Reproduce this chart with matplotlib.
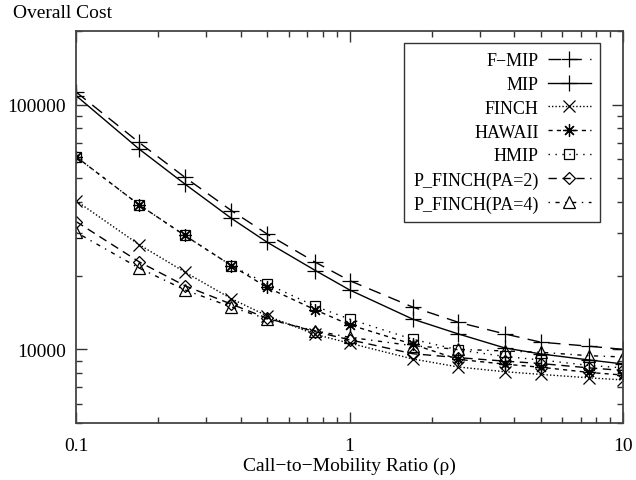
import matplotlib
matplotlib.use("Agg")
import matplotlib.pyplot as plt
from matplotlib.ticker import LogLocator, FixedLocator, NullFormatter, FixedFormatter

rho = [0.1, 0.17, 0.25, 0.37, 0.5, 0.75, 1.0, 1.7, 2.5, 3.7, 5.0, 7.5, 10.0]

f_mip = [112700, 70100, 50500, 36900, 29600, 22700, 19100, 14900, 12900, 11560, 10700, 10300, 10000]
mip = [108900, 65900, 47400, 34300, 27400, 21000, 17500, 13300, 11560, 10130, 9580, 9050, 8715]
finch = [40500, 26800, 20700, 16100, 13700, 11500, 10600, 9140, 8470, 8100, 7900, 7650, 7500]
hawaii = [61300, 39000, 29200, 22000, 17900, 14500, 12600, 10500, 9100, 8700, 8450, 8050, 7850]
hmip = [61300, 39000, 29200, 22000, 18500, 15000, 13300, 11000, 9950, 9350, 9050, 8600, 8400]
p_finch2 = [33300, 22800, 18200, 15300, 13400, 11800, 10950, 9600, 9250, 8950, 8750, 8400, 8200]
p_finch4 = [30100, 21500, 17500, 14900, 13300, 11900, 11200, 10350, 10000, 9850, 9730, 9420, 9310]

labels = ["F\u2212MIP", "MIP", "FINCH", "HAWAII", "HMIP", "P_FINCH(PA=2)", "P_FINCH(PA=4)"]
series = [f_mip, mip, finch, hawaii, hmip, p_finch2, p_finch4]
styles = [(0, (9, 6)), "-", (0, (1, 1.5)), (0, (3, 3)), (0, (1, 4)), (0, (6, 4)), (0, (1, 4, 3, 4))]
markers = ["+", "+", "x", (8, 2, 0), "s", "D", "^"]
msizes = [11, 11, 8, 9, 7, 6, 8]

plt.rcParams['font.family'] = ['Liberation Serif', 'DejaVu Serif']
fig = plt.figure(figsize=(6.36, 4.81), dpi=100)
ax = fig.add_axes([76/636, 1-424/481, (623-76)/636, (424-32)/481])

for y, lab, ls, mk, ms in zip(series, labels, styles, markers, msizes):
    ax.plot(rho, y, color="black", linestyle=ls, linewidth=1.0, marker=mk,
            markersize=ms, markerfacecolor="none", markeredgecolor="black",
            markeredgewidth=0.9, label=lab)

ax.set_xscale("log")
ax.set_yscale("log")
ax.set_xlim(0.1, 10)
ax.set_ylim(5000, 200000)

ax.xaxis.set_major_locator(FixedLocator([0.1, 1, 10]))
ax.xaxis.set_major_formatter(FixedFormatter(["0.1", "1", "10"]))
ax.xaxis.set_minor_locator(LogLocator(base=10, subs=range(2, 10)))
ax.xaxis.set_minor_formatter(NullFormatter())
ax.yaxis.set_major_locator(FixedLocator([10000, 100000]))
ax.yaxis.set_major_formatter(FixedFormatter(["10000", "100000"]))
ax.yaxis.set_minor_locator(LogLocator(base=10, subs=range(2, 10)))
ax.yaxis.set_minor_formatter(NullFormatter())

ax.tick_params(which="both", direction="in", top=True, right=True, colors="#333333",
               labelcolor="black", labelsize=14, width=1)
ax.tick_params(which="major", length=8)
ax.tick_params(axis="x", which="major", pad=10)
ax.tick_params(axis="y", which="major", pad=7)
ax.tick_params(which="minor", length=4)
for s in ax.spines.values():
    s.set_linewidth(1.3)
    s.set_color("#444444")

ax.set_xlabel("Call\u2212to\u2212Mobility Ratio (\u03c1)", fontsize=14, labelpad=2)
fig.text(13/636, 1-14/481, "Overall Cost", fontsize=14, va="center", ha="left")

leg = ax.legend(loc="upper right", bbox_to_anchor=((600-76)/547, (424-44)/392),
                markerfirst=False, fontsize=13, frameon=True, fancybox=False,
                edgecolor="black", handlelength=2.4, labelspacing=0.38,
                borderpad=0.5, handletextpad=0.5, borderaxespad=0)
leg.get_frame().set_linewidth(1.0)
for t in leg.get_texts():
    t.set_ha("right")
leg._legend_box.align = "right"

fig.savefig("out.png", dpi=100)
